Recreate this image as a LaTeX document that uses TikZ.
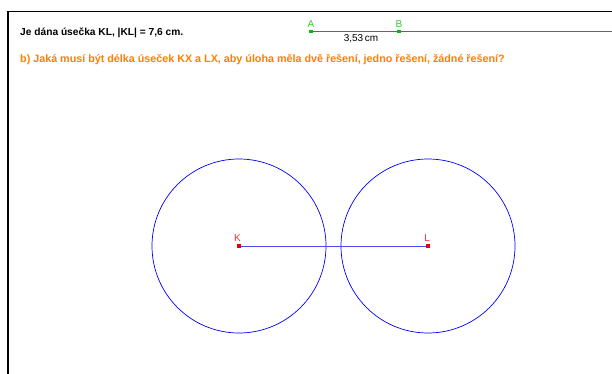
\documentclass[tikz,border=0pt]{standalone}
\usepackage{fontspec}
\setmainfont{Liberation Sans}
\usepackage{xcolor}
\usepackage{tikz}
\usetikzlibrary{positioning}

\definecolor{kruh}{RGB}{0,0,255}
\definecolor{bod}{RGB}{230,0,0}
\definecolor{bodA}{RGB}{0,190,0}
\definecolor{zadani}{RGB}{255,127,0}

\begin{document}
\begin{tikzpicture}[x=1pt, y=-1pt,
    pt/.style={fill=#1, inner sep=0pt, minimum size=3.5pt},
    lbl/.style={font=\fontsize{10}{11}\selectfont, text=#1!80, inner sep=1pt}]
    \useasboundingbox (0,0) rectangle (612,374);
    \fill[white] (0,0) rectangle (612,374);

    % Frame
    \draw[line width=1.3pt] (8,380) -- (8,11.5) -- (620,11.5);

    % Texts
    \node[anchor=west, inner sep=0pt, font=\bfseries\fontsize{10.2}{12}\selectfont] (zad) at (20,33) {Je dána úsečka KL, |KL| = 7,6 cm.};
    \node[anchor=west, inner sep=0pt, text=zadani, font=\bfseries\fontsize{10.75}{12}\selectfont] (otazka) at (20,60) {b) Jaká musí být délka úseček KX a LX, aby úloha měla dvě řešení, jedno řešení, žádné řešení?};

    % Slider AB
    \coordinate (A) at (311,31.5);
    \coordinate (B) at (399,31.5);
    \coordinate (Bend) at (612,31.5);
    \draw[gray!80!black, line width=0.6pt] (A) -- (Bend);
    \node[pt=bodA] (pA) at (A) {};
    \node[pt=bodA] (pB) at (B) {};
    \node[lbl=bodA, above=1pt of pA] (tA) {A};
    \node[lbl=bodA, above=1pt of pB] (tB) {B};
    \node[font=\fontsize{10}{11}\selectfont] (delka) at (361,39) {3,53\,cm};

    % Circles and segment KL
    \coordinate (K) at (239,246);
    \coordinate (L) at (428,246);
    \draw[kruh, line width=0.7pt] (K) circle[radius=87];
    \draw[kruh, line width=0.7pt] (L) circle[radius=87];
    \draw[kruh!70, line width=0.9pt] (K) -- (L);
    \node[pt=bod] (pK) at (K) {};
    \node[pt=bod] (pL) at (L) {};
    \node[lbl=bod, above left=1.5pt and -5pt of pK] (tK) {K};
    \node[lbl=bod, above left=1.5pt and -5pt of pL] (tL) {L};
\end{tikzpicture}
\end{document}
